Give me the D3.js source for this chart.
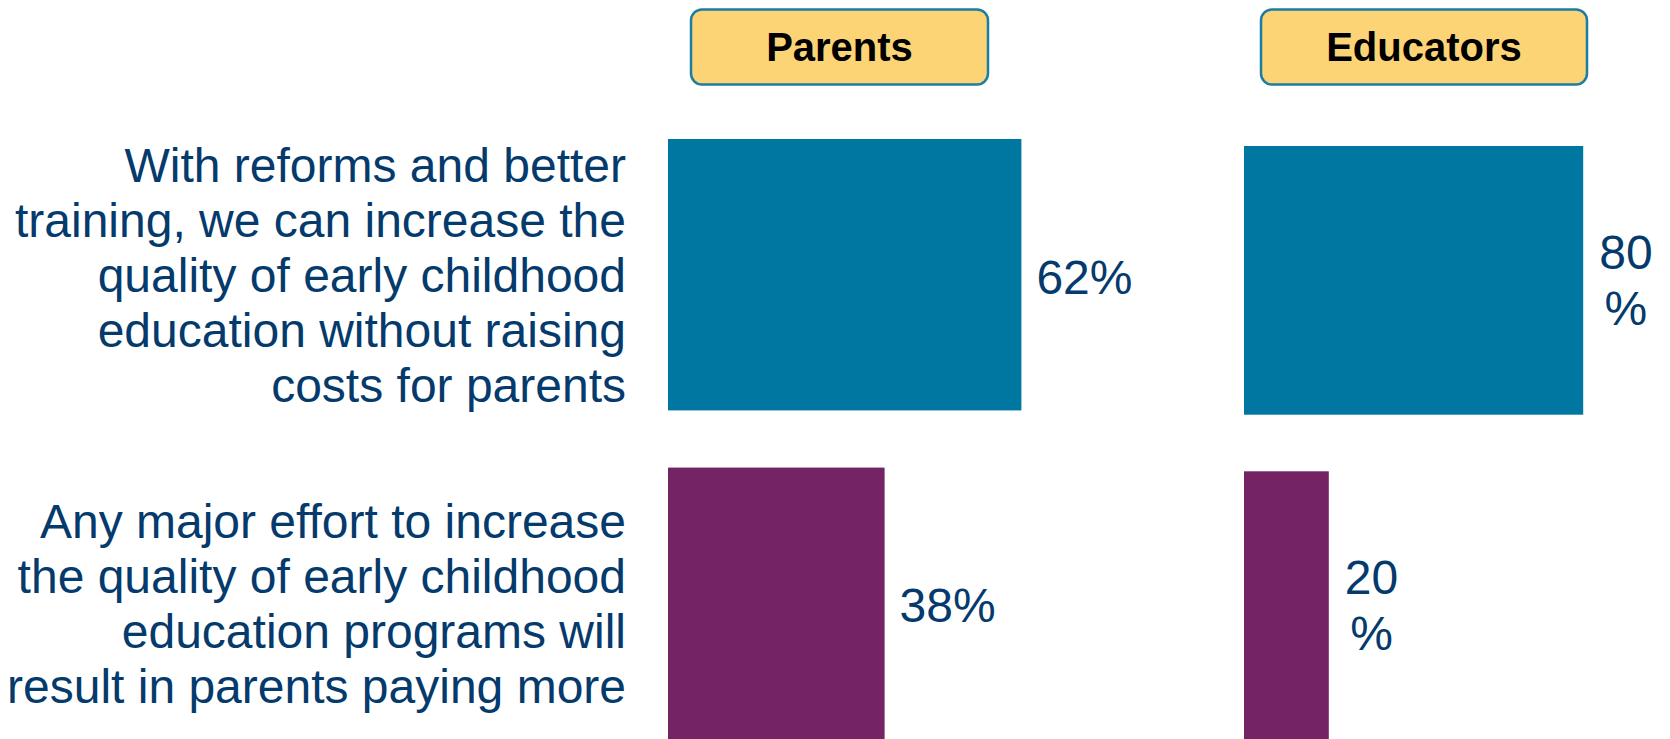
<!DOCTYPE html>
<html>
<head>
<meta charset="utf-8">
<script src="https://cdn.jsdelivr.net/npm/d3@7"></script>
<style>
  body { margin: 0; background: #fff; }
  text { font-family: "Liberation Sans", Arial, sans-serif; }
</style>
</head>
<body>
<script>
// two panels, same two statements, share of respondents who agree

var groups = ["Parents", "Educators"];

var statements = ["reform", "cost"];

var statementLines = [
  ["With reforms and better", "training, we can increase the", "quality of early childhood",
   "education without raising", "costs for parents"],
  ["Any major effort to increase", "the quality of early childhood",
   "education programs will", "result in parents paying more"]
];

var parentsValues = [62, 38];
var educatorsValues = [80, 20];

var W = 1670, H = 739;
var navy = "#053a6c";
var barColor = d3.scaleOrdinal().domain(statements).range(["#0077a1", "#742465"]);

var svg = d3.select("body").append("svg")
  .attr("width", W)
  .attr("height", H);

// each panel came from its own chart so the extents differ a little
var panels = [
  {name: groups[0], values: parentsValues, x0: 668, full: 570, y0: 139, y1: 739, box: [691, 988], wrap: false},
  {name: groups[1], values: educatorsValues, x0: 1244, full: 424, y0: 146, y1: 740, box: [1261, 1587], wrap: true}
];

panels.forEach(function(p){
  var x = d3.scaleLinear()
    .domain([0, 100])
    .range([p.x0, p.x0 + p.full]);

  var y = d3.scaleBand()
    .domain(statements)
    .range([p.y0, p.y1])
    .paddingInner(0.174)
    .paddingOuter(0);
  p.y = y;

  var data = statements.map(function(s, i){ return {key: s, value: p.values[i]}; });

  var g = svg.append("g").attr("class", "panel");

  // header box
  g.append("rect")
    .attr("x", p.box[0])
    .attr("y", 9.5)
    .attr("width", p.box[1] - p.box[0])
    .attr("height", 75)
    .attr("rx", 11)
    .attr("fill", "#fdd475")
    .attr("stroke", "#1a7ea3")
    .attr("stroke-width", 2.5);

  g.append("text")
    .attr("x", (p.box[0] + p.box[1]) / 2)
    .attr("y", 47)
    .attr("dy", "0.35em")
    .attr("text-anchor", "middle")
    .attr("font-size", 40)
    .attr("font-weight", "bold")
    .attr("fill", "#000")
    .text(p.name);

  g.selectAll(".bar")
    .data(data)
    .enter().append("rect")
    .attr("class", "bar")
    .attr("x", x(0))
    .attr("y", function(d){ return y(d.key); })
    .attr("width", function(d){ return x(d.value) - x(0); })
    .attr("height", y.bandwidth())
    .attr("fill", function(d){ return barColor(d.key); });

  var lbl = g.selectAll(".amount")
    .data(data)
    .enter().append("text")
    .attr("class", "amount")
    .attr("font-size", 48)
    .attr("fill", navy);

  if (!p.wrap) {
    lbl.attr("x", function(d){ return x(d.value) + 15; })
      .attr("y", function(d){ return y(d.key) + y.bandwidth() / 2 + 2; })
      .attr("dy", "0.35em")
      .text(function(d){ return d.value + "%"; });
  } else {
    // narrow text box in the source, number and % on separate lines
    lbl.attr("text-anchor", "middle")
      .each(function(d){
        var cx = x(d.value) + 16 + 26.7;
        var cy = y(d.key) + y.bandwidth() / 2;
        d3.select(this).append("tspan")
          .attr("x", cx).attr("y", cy - 28).attr("dy", "0.35em")
          .text(d.value);
        d3.select(this).append("tspan")
          .attr("x", cx).attr("y", cy + 28).attr("dy", "0.35em")
          .text("%");
      });
  }
});

// statement labels, centred on the Parents bars
var yRow = panels[0].y;
var lineH = 55;

svg.selectAll(".statement")
  .data(statements)
  .enter().append("text")
  .attr("class", "statement")
  .attr("text-anchor", "end")
  .attr("font-size", 48)
  .attr("fill", navy)
  .each(function(s, i){
    var lines = statementLines[i];
    var cy = yRow(s) + yRow.bandwidth() / 2;
    var top = cy - (lines.length - 1) * lineH / 2;
    d3.select(this).selectAll("tspan")
      .data(lines)
      .enter().append("tspan")
      .attr("x", 626)
      .attr("y", function(d, j){ return top + j * lineH; })
      .attr("dy", "0.35em")
      .text(function(d){ return d; });
  });
</script>
</body>
</html>
